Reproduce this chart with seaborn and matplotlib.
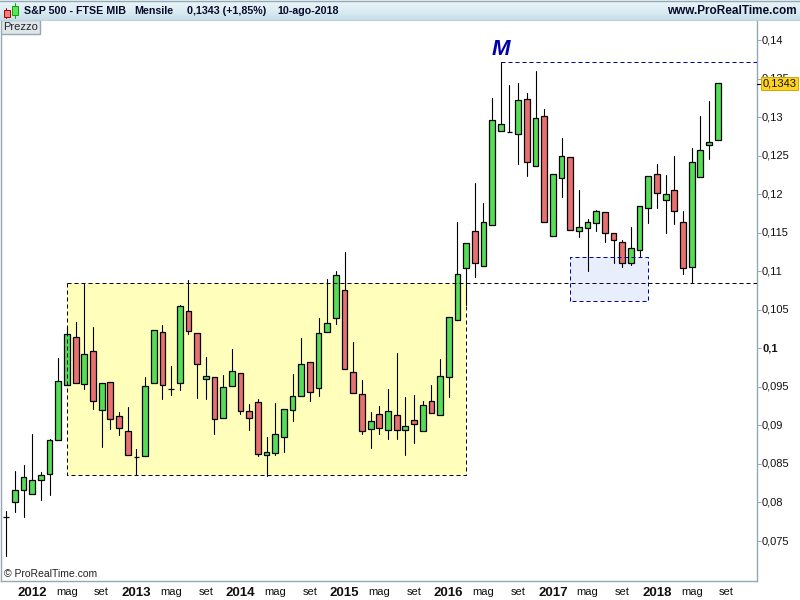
import numpy as np
import pandas as pd
import matplotlib
matplotlib.use("Agg")
import matplotlib.pyplot as plt
import seaborn as sns
from matplotlib.colors import LinearSegmentedColormap
from matplotlib.patches import Rectangle
from matplotlib.transforms import ScaledTranslation

# monthly candles, first one is oct 2011, last one aug 2018
opens = [.07811, .08002, .08158, .08106, .08288, .08365, .08806, .09520, .10143, .09533,
         .09961, .09196, .09559, .09118, .08923, .08594, .08599, .09546, .10208, .09476,
         .09546, .10480, .10195, .09598, .09624, .09092, .09507, .09676, .09183, .09300,
         .08612, .08638, .08845, .09196, .09385, .09818, .09481, .10208, .10397, .10753,
         .09689, .09403, .08949, .09144, .08936, .09131, .08936, .09066, .08923, .09313,
         .09131, .09624, .10363, .11038, .11518, .11064, .11596, .12815, .12810, .12777,
         .13231, .12361, .13010, .11453, .12206, .12478, .11518, .11557, .11622, .11765,
         .11492, .11375, .11103, .11272, .11816, .12258, .11920, .12050, .11635, .11051,
         .12219, .12634, .12699]
closes = [.07811, .08158, .08326, .08288, .08352, .08806, .09572, .10182, .09546, .09922,
          .09313, .09546, .09079, .08962, .08612, .08594, .09507, .10234, .09520, .09476,
          .10545, .10221, .09793, .09637, .09079, .09494, .09702, .09183, .09092, .08625,
          .08651, .08884, .09209, .09377, .09793, .09437, .10195, .10324, .10947, .09728,
          .09416, .08923, .09053, .08962, .09183, .08936, .08988, .09014, .09261, .09157,
          .09637, .10402, .10960, .11362, .11103, .11635, .12958, .12906, .12810, .13218,
          .12413, .12984, .11635, .12258, .12491, .11531, .11570, .11635, .11778, .11492,
          .11401, .11103, .11297, .11842, .12232, .12011, .11998, .11778, .11038, .12413,
          .12569, .12673, .13438]
highs = [.07889, .08408, .08486, .08888, .08391, .08823, .09870, .10289, .10341, .10834,
         .10276, .09546, .09559, .09170, .09235, .08690, .09628, .10234, .10302, .09770,
         .10562, .10886, .10195, .09883, .09624, .09650, .09987, .09676, .09274, .09338,
         .08845, .09287, .09209, .09667, .10130, .09818, .10389, .10899, .11003, .11249,
         .10078, .09585, .09170, .09248, .09468, .09935, .09368, .09390, .09313, .09520,
         .09857, .10402, .11635, .11362, .12141, .11881, .13244, .13711, .13412, .13438,
         .13308, .13594, .13101, .12258, .12725, .12478, .12050, .11674, .11791, .11765,
         .11492, .11401, .11570, .11842, .12232, .12387, .12245, .12491, .11778, .12595,
         .13010, .13205, .13438]
lows = [.07309, .07880, .07815, .08106, .08036, .08101, .08806, .09520, .09546, .09476,
        .09217, .08724, .08957, .08879, .08612, .08352, .08599, .09546, .09346, .09398,
        .09463, .10190, .09359, .09346, .08892, .09092, .09507, .09144, .08944, .08599,
        .08347, .08620, .08659, .09057, .09385, .09320, .09385, .10208, .10319, .09728,
        .09416, .08892, .08710, .08892, .08827, .08827, .08620, .08775, .08923, .09157,
        .09131, .09372, .10363, .10562, .10929, .11064, .11596, .12815, .12810, .12391,
        .12239, .12361, .11635, .11453, .11967, .11531, .11448, .11007, .11518, .11375,
        .11111, .11051, .11077, .11181, .11630, .11816, .11492, .11609, .10960, .10843,
        .12219, .12452, .12699]

price_ticks = [.075, .08, .085, .09, .095, .1, .105, .11, .115, .12, .125, .13, .135, .14]
price_labels = ["0,075", "0,08", "0,085", "0,09", "0,095", "0,1", "0,105", "0,11",
                "0,115", "0,12", "0,125", "0,13", "0,135", "0,14"]
month_ticks = list(range(3, 84, 4))
month_labels = ["2012", "mag", "set", "2013", "mag", "set", "2014", "mag", "set", "2015", "mag",
                "set", "2016", "mag", "set", "2017", "mag", "set", "2018", "mag", "set"]

last_price = 0.1343

# yellow range, blue support box, line from the top
range_top, range_bottom = 0.10853, 0.08356
range_start, range_end = 7, 53
box_top, box_bottom = 0.11191, 0.10611
box_start, box_end = 65, 74
peak_level, peak_month = 0.13711, 57
label_level = 0.13805

green = "#55dd55"
red = "#e87070"
frame = "#97a8b3"

df = pd.DataFrame({"month": range(len(opens)), "open": opens, "close": closes,
                   "high": highs, "low": lows})
df["base"] = df[["open", "close"]].min(axis=1)
df["height"] = (df["close"] - df["open"]).abs()

sns.set_theme(style="white")
plt.rcParams["font.family"] = "Liberation Sans"

fig = plt.figure(figsize=(8, 6), dpi=100)
ax = fig.add_axes([0.5 / 800, 19.5 / 600, 756 / 800, 560 / 600])

# background boxes go under the candles
ax.add_patch(Rectangle((range_start, range_bottom), range_end - range_start, range_top - range_bottom,
                       facecolor="#ffffbb", edgecolor="none", zorder=1))
ax.add_patch(Rectangle((box_start, box_bottom), box_end - box_start, box_top - box_bottom,
                       facecolor="#e8eefc", edgecolor="none", zorder=1))

wicks = df.melt(id_vars="month", value_vars=["high", "low"], value_name="price")
sns.lineplot(data=wicks, x="month", y="price", units="month", estimator=None, color="black",
             linewidth=0.8, legend=False, ax=ax, zorder=2)

up = df[df["close"] >= df["open"]]
down = df[df["close"] < df["open"]]
for sub, col in [(up, green), (down, red)]:
    sns.barplot(data=sub, x="month", y="height", bottom=sub["base"].values, native_scale=True,
                width=0.66, color=col, saturation=1, edgecolor="black", linewidth=0.9,
                errorbar=None, ax=ax, zorder=3)

xmin, xmax = -0.66, 86.47
dash = (0, (4, 3))
line_kw = dict(linewidth=0.72, linestyle=dash, zorder=4)
ax.plot([range_start, xmax], [range_top, range_top], color="black", **line_kw)
ax.plot([range_start, range_start, range_end, range_end],
        [range_top, range_bottom, range_bottom, range_top], color="black", **line_kw)
ax.plot([box_start, box_start, box_end, box_end, box_start],
        [box_bottom, box_top, box_top, box_bottom, box_bottom], color="#0000aa", **line_kw)
ax.plot([peak_month, xmax], [peak_level, peak_level], color="#0000aa", **line_kw)
ax.text(peak_month, label_level, "M", color="#0000aa", fontsize=16,
        fontweight="bold", fontstyle="italic", ha="center", va="baseline", zorder=5)

ax.set_xlim(xmin, xmax)
ax.set_ylim(0.06988, 0.14253)
ax.set_xlabel("")
ax.set_ylabel("")
ax.yaxis.tick_right()
ax.set_yticks(price_ticks)
ax.set_yticklabels(price_labels)
ax.set_xticks(month_ticks)
ax.set_xticklabels(month_labels)
ax.tick_params(axis="both", length=3, width=0.72, color=frame, labelsize=8, labelcolor="#111111")
ax.tick_params(axis="y", pad=1)
ax.tick_params(axis="x", pad=2)
up_1px = ScaledTranslation(0, 1 / 100, fig.dpi_scale_trans)
for lab in ax.get_yticklabels():
    lab.set_transform(lab.get_transform() + up_1px)
    if lab.get_text() == "0,1":
        lab.set_fontweight("bold")
for lab in ax.get_xticklabels():
    if lab.get_text().isdigit():
        lab.set_fontweight("bold")
        lab.set_fontsize(9.5)
for side in ax.spines:
    ax.spines[side].set_visible(side != "top")
    ax.spines[side].set_color(frame)
    ax.spines[side].set_linewidth(1)

# last price marker on the axis
ax.plot([1, 1 + 5 / 756], [last_price, last_price], transform=ax.get_yaxis_transform(),
        color="black", linewidth=0.8, clip_on=False, zorder=6)
fig.text(762.5 / 800, 1 - 83.5 / 600, "0,1343", fontsize=8, color="#111111", va="center", ha="left",
         bbox=dict(boxstyle="square,pad=0.1", facecolor="#ffd21e", edgecolor="#d0a800", linewidth=0.7))

ax.text(3 / 756, 6.5 / 560, "© ProRealTime.com", transform=ax.transAxes, fontsize=7.5,
        color="#222222", va="center", ha="left")

# Prezzo tab
ax.add_patch(Rectangle((0, 1 - 13.5 / 560), 39 / 756, 13.5 / 560, transform=ax.transAxes,
                       facecolor="#dfe6ea", edgecolor=frame, linewidth=1, zorder=6))
ax.text(2.5 / 756, 1 - 7 / 560, "Prezzo", transform=ax.transAxes, fontsize=8, color="#222222",
        va="center", ha="left", zorder=7)

# header strip, in pixel coordinates
hdr = fig.add_axes([0, 1 - 21 / 600, 1, 21 / 600])
shade = LinearSegmentedColormap.from_list("shade", ["#eaf5f9", "#dcedf4", "#c5dce7"])
hdr.imshow(np.linspace(0, 1, 20)[:, None], cmap=shade, aspect="auto", extent=(0, 800, 21, 0))
hdr.set_xlim(0, 800)
hdr.set_ylim(21, 0)
hdr.axis("off")
hdr.plot([0, 800], [0.5, 0.5], color=frame, linewidth=1)
hdr.plot([0, 800], [20.5, 20.5], color=frame, linewidth=1)
hdr.plot([6, 6], [8, 18], color="#aa0000", linewidth=0.7)
hdr.plot([14.5, 14.5], [3, 18], color="#00aa00", linewidth=0.7)
hdr.add_patch(Rectangle((3.5, 10), 6, 7, facecolor="#f08080", edgecolor="#aa0000", linewidth=0.7, zorder=3))
hdr.add_patch(Rectangle((11.5, 6), 6, 9, facecolor="#60e060", edgecolor="#00aa00", linewidth=0.7, zorder=3))
title_kw = dict(fontsize=7.7, fontweight="bold", color="#0a0a2a", va="center")
hdr.text(24, 11, "S&P 500 - FTSE MIB", **title_kw)
hdr.text(134.5, 11, "Mensile", **title_kw)
hdr.text(187, 11, "0,1343 (+1,85%)", **title_kw)
hdr.text(277, 11, "10-ago-2018", **title_kw)
hdr.text(796.5, 11, "www.ProRealTime.com", ha="right", fontsize=8.5, fontweight="bold",
         color="#0a0a2a", va="center")

fig.savefig("out.png", dpi=100)
